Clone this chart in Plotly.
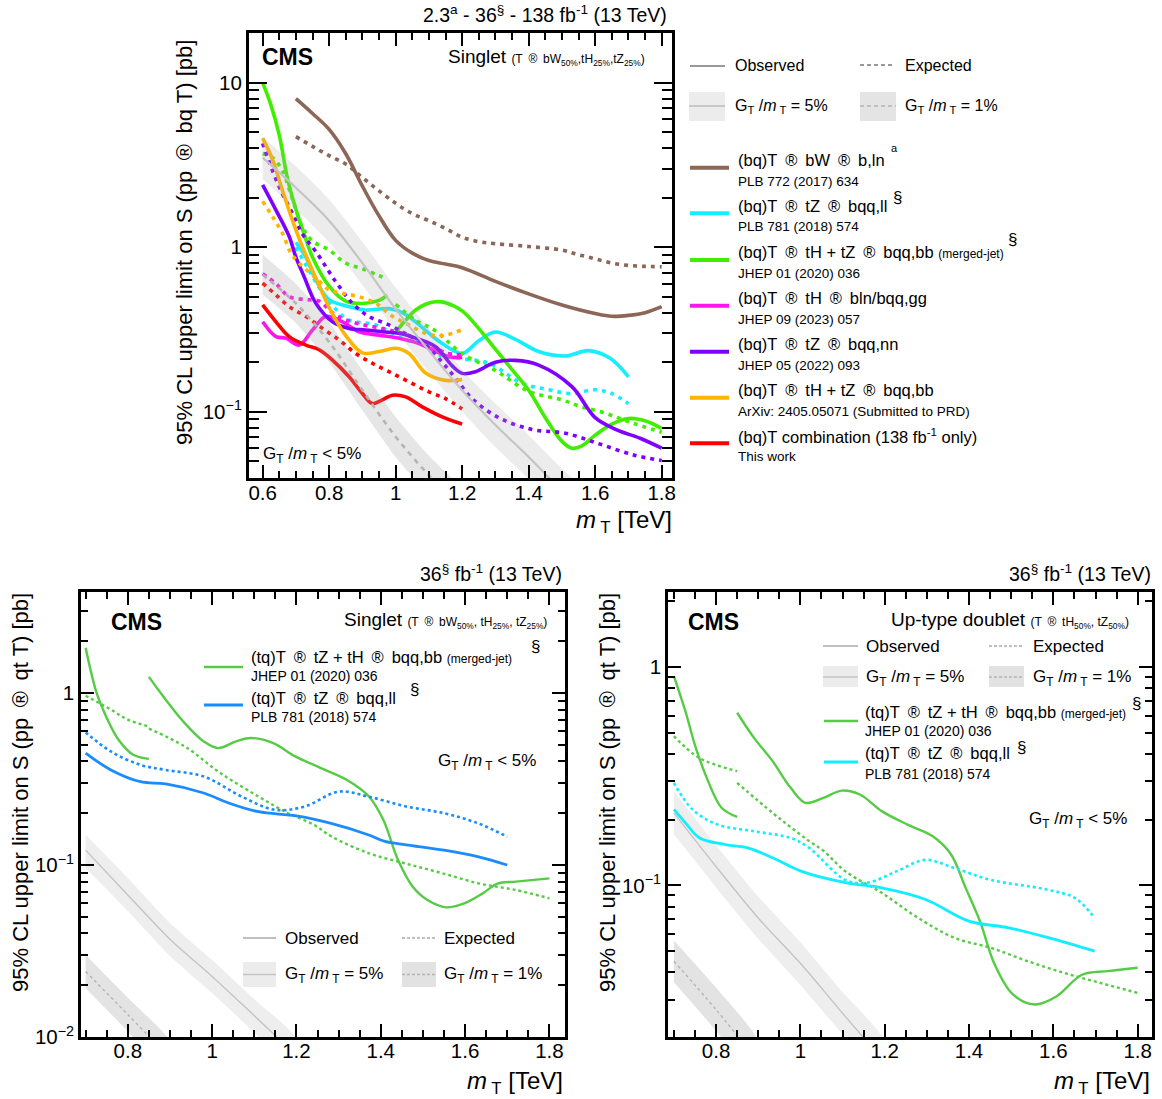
import plotly.graph_objects as go

W, H = 1162, 1099
FONT = "Liberation Sans, Arial, Helvetica, sans-serif"
NB = "\u00a0\u2009"
ARR = NB + "®" + NB

# ---------------- DATA: top panel (bq)T singlet ----------------
bw_obs_x = [0.70, 0.75, 0.80, 0.85, 0.90, 0.95, 1.00, 1.05, 1.10, 1.15, 1.20, 1.30, 1.40, 1.50, 1.60, 1.65, 1.70, 1.75, 1.80]
bw_obs_y = [8.0, 6.5, 5.2, 3.7, 2.35, 1.55, 1.1, 0.92, 0.83, 0.79, 0.75, 0.62, 0.52, 0.445, 0.395, 0.38, 0.385, 0.40, 0.435]
bw_exp_x = [0.70, 0.75, 0.80, 0.85, 0.90, 0.95, 1.00, 1.05, 1.10, 1.15, 1.20, 1.25, 1.30, 1.40, 1.50, 1.55, 1.60, 1.65, 1.70, 1.75, 1.80]
bw_exp_y = [4.7, 4.1, 3.6, 3.2, 2.65, 2.2, 1.85, 1.6, 1.45, 1.3, 1.15, 1.08, 1.05, 1.01, 0.96, 0.9, 0.85, 0.8, 0.775, 0.765, 0.76]

tzll_obs_x = [0.70, 0.73, 0.76, 0.80, 0.86, 0.91, 0.98, 1.02, 1.06, 1.10, 1.14, 1.20, 1.25, 1.30, 1.36, 1.43, 1.51, 1.58, 1.645, 1.70]
tzll_obs_y = [1.07, 0.87, 0.63, 0.48, 0.435, 0.415, 0.423, 0.40, 0.352, 0.30, 0.26, 0.226, 0.27, 0.305, 0.275, 0.232, 0.218, 0.235, 0.211, 0.163]
tzll_exp_x = [0.70, 0.74, 0.78, 0.82, 0.86, 0.94, 1.03, 1.08, 1.13, 1.19, 1.28, 1.38, 1.46, 1.53, 1.60, 1.65, 1.70]
tzll_exp_y = [1.0, 0.72, 0.53, 0.42, 0.36, 0.337, 0.273, 0.26, 0.222, 0.211, 0.197, 0.149, 0.136, 0.129, 0.136, 0.129, 0.112]

mj_obs1_x = [0.60, 0.625, 0.65, 0.675, 0.70, 0.725, 0.75, 0.80, 0.85, 0.90, 0.95, 0.975]
mj_obs1_y = [10.0, 7.3, 4.8, 2.6, 1.7, 1.2, 0.87, 0.58, 0.47, 0.455, 0.475, 0.51]
mj_obs2_x = [1.0, 1.03, 1.06, 1.09, 1.12, 1.15, 1.20, 1.25, 1.30, 1.35, 1.40, 1.45, 1.50, 1.53, 1.56, 1.60, 1.65, 1.70, 1.75, 1.80]
mj_obs2_y = [0.305, 0.36, 0.415, 0.45, 0.466, 0.46, 0.41, 0.32, 0.24, 0.18, 0.135, 0.092, 0.066, 0.060, 0.062, 0.072, 0.084, 0.091, 0.088, 0.079]
mj_exp1_x = [0.60, 0.63, 0.66, 0.69, 0.72, 0.75, 0.80, 0.85, 0.90, 0.95, 0.97]
mj_exp1_y = [3.7, 3.5, 2.9, 1.95, 1.32, 1.09, 0.96, 0.80, 0.74, 0.67, 0.65]
mj_exp2_x = [1.0, 1.06, 1.12, 1.20, 1.30, 1.40, 1.50, 1.56, 1.63, 1.70, 1.80]
mj_exp2_y = [0.45, 0.36, 0.31, 0.225, 0.178, 0.133, 0.118, 0.107, 0.098, 0.087, 0.075]

thgg_obs_x = [0.60, 0.64, 0.67, 0.71, 0.75, 0.79, 0.84, 0.89, 0.95, 1.01, 1.07, 1.16, 1.20]
thgg_obs_y = [0.352, 0.286, 0.28, 0.254, 0.314, 0.379, 0.352, 0.306, 0.292, 0.28, 0.26, 0.216, 0.214]
thgg_exp_x = [0.60, 0.64, 0.68, 0.73, 0.77, 0.81, 0.86, 0.96, 1.02, 1.10, 1.15, 1.20]
thgg_exp_y = [0.69, 0.60, 0.50, 0.48, 0.47, 0.40, 0.355, 0.32, 0.30, 0.26, 0.228, 0.222]

tznn_obs_x = [0.60, 0.64, 0.68, 0.70, 0.725, 0.76, 0.81, 0.86, 0.91, 0.96, 1.01, 1.06, 1.12, 1.17, 1.20, 1.24, 1.30, 1.36, 1.43, 1.53, 1.60, 1.665, 1.735, 1.80]
tznn_obs_y = [2.39, 1.68, 1.16, 0.87, 0.66, 0.456, 0.352, 0.321, 0.314, 0.306, 0.30, 0.28, 0.248, 0.19, 0.171, 0.175, 0.20, 0.205, 0.192, 0.142, 0.092, 0.0775, 0.069, 0.060]
tznn_exp_x = [0.60, 0.63, 0.66, 0.69, 0.72, 0.76, 0.82, 0.87, 0.92, 0.98, 1.04, 1.09, 1.14, 1.18, 1.23, 1.31, 1.41, 1.51, 1.61, 1.715, 1.80]
tznn_exp_y = [4.28, 2.9, 2.1, 1.6, 1.2, 0.94, 0.617, 0.456, 0.379, 0.337, 0.29, 0.255, 0.20, 0.16, 0.12, 0.092, 0.078, 0.074, 0.064, 0.0546, 0.0505]

thbb_obs_x = [0.60, 0.63, 0.66, 0.69, 0.72, 0.76, 0.80, 0.85, 0.90, 0.95, 1.00, 1.04, 1.09, 1.15, 1.20]
thbb_obs_y = [4.6, 3.4, 2.2, 1.45, 1.0, 0.65, 0.43, 0.29, 0.228, 0.232, 0.243, 0.226, 0.172, 0.155, 0.157]
thbb_exp_x = [0.60, 0.63, 0.66, 0.685, 0.71, 0.76, 0.80, 0.84, 0.89, 0.94, 0.99, 1.04, 1.09, 1.14, 1.20]
thbb_exp_y = [1.9, 1.53, 1.21, 0.92, 0.80, 0.65, 0.55, 0.525, 0.50, 0.456, 0.38, 0.337, 0.30, 0.29, 0.315]

comb_obs_x = [0.60, 0.64, 0.68, 0.73, 0.77, 0.81, 0.86, 0.90, 0.93, 0.96, 0.99, 1.03, 1.08, 1.14, 1.20]
comb_obs_y = [0.446, 0.352, 0.286, 0.254, 0.238, 0.206, 0.163, 0.129, 0.112, 0.118, 0.126, 0.123, 0.107, 0.093, 0.084]
comb_exp_x = [0.60, 0.64, 0.68, 0.73, 0.78, 0.83, 0.88, 0.93, 0.98, 1.04, 1.10, 1.15, 1.20]
comb_exp_y = [0.604, 0.513, 0.435, 0.379, 0.321, 0.273, 0.226, 0.197, 0.175, 0.152, 0.132, 0.12, 0.104]

th5_top_x = [0.6, 0.7, 0.8, 0.9, 1.0, 1.1, 1.2, 1.3, 1.4, 1.5, 1.6]
th5_top_y = [3.5, 2.3, 1.45, 0.8, 0.42, 0.235, 0.135, 0.083, 0.053, 0.033, 0.021]
th5_top_hi = [4.7, 3.1, 1.95, 1.08, 0.57, 0.32, 0.18, 0.112, 0.072, 0.045, 0.028]
th5_top_lo = [2.6, 1.7, 1.07, 0.59, 0.31, 0.174, 0.10, 0.061, 0.039, 0.024, 0.0155]
th1_top_x = [0.6, 0.7, 0.8, 0.9, 1.0, 1.1, 1.2]
th1_top_y = [0.68, 0.455, 0.265, 0.135, 0.0705, 0.041, 0.025]
th1_top_hi = [0.90, 0.60, 0.35, 0.178, 0.093, 0.054, 0.033]
th1_top_lo = [0.515, 0.345, 0.20, 0.102, 0.053, 0.031, 0.019]

# ---------------- DATA: bottom-left (tq)T singlet ----------------
bl_mj_obs1_x = [0.70, 0.726, 0.752, 0.778, 0.813, 0.85]
bl_mj_obs1_y = [1.83, 1.0, 0.70, 0.535, 0.437, 0.414]
bl_mj_obs2_x = [0.85, 0.89, 0.935, 0.98, 1.014, 1.057, 1.092, 1.145, 1.197, 1.258, 1.319, 1.372, 1.406, 1.441, 1.476, 1.511, 1.555, 1.598, 1.642, 1.677, 1.721, 1.80]
bl_mj_obs2_y = [1.24, 0.914, 0.668, 0.523, 0.478, 0.523, 0.547, 0.511, 0.428, 0.366, 0.313, 0.25, 0.183, 0.107, 0.0748, 0.0625, 0.0567, 0.0598, 0.0684, 0.078, 0.080, 0.0836]
bl_mj_exp1_x = [0.70, 0.76, 0.80, 0.85]
bl_mj_exp1_y = [0.964, 0.80, 0.70, 0.64]
bl_mj_exp2_x = [0.85, 0.935, 1.02, 1.11, 1.18, 1.24, 1.284, 1.372, 1.459, 1.546, 1.634, 1.721, 1.80]
bl_mj_exp2_y = [0.62, 0.489, 0.342, 0.25, 0.20, 0.172, 0.146, 0.117, 0.102, 0.0895, 0.078, 0.0715, 0.064]
bl_ll_obs_x = [0.70, 0.76, 0.83, 0.89, 0.98, 1.04, 1.11, 1.20, 1.28, 1.37, 1.41, 1.46, 1.55, 1.63, 1.70]
bl_ll_obs_y = [0.447, 0.357, 0.305, 0.296, 0.262, 0.229, 0.204, 0.193, 0.175, 0.15, 0.137, 0.131, 0.122, 0.112, 0.10]
bl_ll_exp_x = [0.70, 0.76, 0.83, 0.89, 0.98, 1.07, 1.15, 1.22, 1.30, 1.37, 1.46, 1.55, 1.63, 1.70]
bl_ll_exp_y = [0.59, 0.457, 0.382, 0.357, 0.327, 0.25, 0.209, 0.219, 0.267, 0.25, 0.219, 0.20, 0.175, 0.146]
bl_th5_x = [0.7, 0.8, 0.9, 1.0, 1.1, 1.2]
bl_th5_y = [0.122, 0.067, 0.037, 0.0225, 0.0133, 0.0078]
bl_th5_hi = [0.150, 0.084, 0.046, 0.028, 0.0166, 0.0098]
bl_th5_lo = [0.096, 0.054, 0.0296, 0.018, 0.0106, 0.0062]
bl_th1_x = [0.7, 0.8, 0.9]
bl_th1_y = [0.024, 0.0135, 0.0075]
bl_th1_hi = [0.030, 0.0169, 0.0094]
bl_th1_lo = [0.0192, 0.0108, 0.006]

# ---------------- DATA: bottom-right (tq)T up-type doublet ----------------
br_mj_obs1_x = [0.70, 0.727, 0.752, 0.778, 0.813, 0.85]
br_mj_obs1_y = [0.91, 0.63, 0.427, 0.311, 0.227, 0.206]
br_mj_obs2_x = [0.85, 0.89, 0.934, 0.977, 1.012, 1.055, 1.098, 1.141, 1.193, 1.254, 1.314, 1.357, 1.392, 1.426, 1.461, 1.504, 1.556, 1.608, 1.668, 1.729, 1.80]
br_mj_obs2_y = [0.618, 0.474, 0.371, 0.28, 0.239, 0.252, 0.272, 0.261, 0.219, 0.19, 0.168, 0.139, 0.0975, 0.0686, 0.0434, 0.0317, 0.0285, 0.0311, 0.039, 0.0405, 0.042]
br_mj_exp1_x = [0.70, 0.76, 0.85]
br_mj_exp1_y = [0.483, 0.384, 0.334]
br_mj_exp2_x = [0.85, 0.934, 0.977, 1.02, 1.055, 1.107, 1.193, 1.279, 1.366, 1.452, 1.539, 1.625, 1.711, 1.80]
br_mj_exp2_y = [0.295, 0.215, 0.185, 0.16, 0.144, 0.116, 0.0925, 0.0711, 0.0575, 0.0518, 0.045, 0.0398, 0.0358, 0.0322]
br_ll_obs_x = [0.70, 0.727, 0.761, 0.822, 0.873, 0.934, 1.003, 1.107, 1.193, 1.297, 1.40, 1.495, 1.59, 1.698]
br_ll_obs_y = [0.223, 0.194, 0.165, 0.154, 0.149, 0.134, 0.116, 0.103, 0.0975, 0.0863, 0.0686, 0.064, 0.0575, 0.05]
br_ll_exp_x = [0.70, 0.744, 0.804, 0.891, 0.977, 1.02, 1.107, 1.159, 1.228, 1.297, 1.366, 1.452, 1.582, 1.651, 1.698]
br_ll_exp_y = [0.295, 0.223, 0.19, 0.177, 0.165, 0.149, 0.106, 0.103, 0.116, 0.131, 0.12, 0.106, 0.096, 0.0877, 0.071]
br_th5_x = [0.7, 0.8, 0.9, 1.0, 1.1, 1.2]
br_th5_y = [0.215, 0.122, 0.071, 0.044, 0.026, 0.0155]
br_th5_hi = [0.27, 0.153, 0.089, 0.055, 0.0325, 0.0194]
br_th5_lo = [0.172, 0.098, 0.057, 0.035, 0.0208, 0.0124]
br_th1_x = [0.7, 0.8, 0.9]
br_th1_y = [0.045, 0.027, 0.0155]
br_th1_hi = [0.056, 0.034, 0.0194]
br_th1_lo = [0.036, 0.0216, 0.0124]

# ---------------- styles ----------------
C_BROWN = "#8c6656"
C_CYAN = "#14eeff"
C_GREEN = "#40ee00"
C_MAG = "#ff14f0"
C_PURP = "#7f00ff"
C_ORNG = "#ffb400"
C_RED = "#ff0000"
C_GREEN2 = "#55cc44"
C_BLUE = "#1a8cff"
C_CYAN2 = "#10eeff"

fig = go.Figure()


def line(x, y, color, width, dash=None, ax="", opacity=1.0):
    fig.add_trace(go.Scatter(
        x=x, y=y, mode="lines", opacity=opacity,
        line=dict(color=color, width=width, dash=dash, shape="spline", smoothing=1.0),
        xaxis="x" + ax, yaxis="y" + ax, hoverinfo="skip", showlegend=False))


def band(x, lo, hi, fill, ax=""):
    fig.add_trace(go.Scatter(
        x=list(x) + list(x)[::-1], y=list(hi) + list(lo)[::-1],
        mode="lines", fill="toself", fillcolor=fill,
        line=dict(width=0, shape="spline", smoothing=0.6),
        xaxis="x" + ax, yaxis="y" + ax, hoverinfo="skip", showlegend=False))


# ---- top panel ----
DT = "4px,5px"
LWT = 3.6
line(bw_exp_x, bw_exp_y, C_BROWN, LWT, DT)
line(bw_obs_x, bw_obs_y, C_BROWN, LWT)
line(tzll_exp_x, tzll_exp_y, C_CYAN, LWT, DT)
line(tzll_obs_x, tzll_obs_y, C_CYAN, LWT)
line(mj_exp1_x, mj_exp1_y, C_GREEN, LWT, DT)
line(mj_exp2_x, mj_exp2_y, C_GREEN, LWT, DT)
line(mj_obs1_x, mj_obs1_y, C_GREEN, LWT)
line(mj_obs2_x, mj_obs2_y, C_GREEN, LWT)
line(thgg_exp_x, thgg_exp_y, C_MAG, LWT, DT)
line(thgg_obs_x, thgg_obs_y, C_MAG, LWT)
line(tznn_exp_x, tznn_exp_y, C_PURP, LWT, DT)
line(tznn_obs_x, tznn_obs_y, C_PURP, LWT)
line(thbb_exp_x, thbb_exp_y, C_ORNG, LWT, DT)
line(thbb_obs_x, thbb_obs_y, C_ORNG, LWT)
line(comb_exp_x, comb_exp_y, C_RED, LWT, DT)
line(comb_obs_x, comb_obs_y, C_RED, LWT)
band(th5_top_x, th5_top_lo, th5_top_hi, "rgba(170,170,170,0.22)")
band(th1_top_x, th1_top_lo, th1_top_hi, "rgba(160,160,160,0.26)")
line(th5_top_x, th5_top_y, "#c4c4c4", 2.2)
line(th1_top_x, th1_top_y, "#b4b4b4", 2.6, "5px,5px")

# ---- bottom-left ----
band(bl_th5_x, bl_th5_lo, bl_th5_hi, "#eeeeee", "2")
band(bl_th1_x, bl_th1_lo, bl_th1_hi, "#e3e3e3", "2")
line(bl_th5_x, bl_th5_y, "#c4c4c4", 1.4, None, "2")
line(bl_th1_x, bl_th1_y, "#b4b4b4", 1.4, "3px,3px", "2")
line(bl_mj_exp1_x, bl_mj_exp1_y, C_GREEN2, 2.4, "3px,3px", "2")
line(bl_mj_exp2_x, bl_mj_exp2_y, C_GREEN2, 2.4, "3px,3px", "2")
line(bl_mj_obs1_x, bl_mj_obs1_y, C_GREEN2, 2.4, None, "2")
line(bl_mj_obs2_x, bl_mj_obs2_y, C_GREEN2, 2.4, None, "2")
line(bl_ll_exp_x, bl_ll_exp_y, C_BLUE, 2.6, "3px,3px", "2")
line(bl_ll_obs_x, bl_ll_obs_y, C_BLUE, 2.8, None, "2")

# ---- bottom-right ----
band(br_th5_x, br_th5_lo, br_th5_hi, "#eeeeee", "3")
band(br_th1_x, br_th1_lo, br_th1_hi, "#e3e3e3", "3")
line(br_th5_x, br_th5_y, "#c4c4c4", 1.4, None, "3")
line(br_th1_x, br_th1_y, "#b4b4b4", 1.4, "3px,3px", "3")
line(br_mj_exp1_x, br_mj_exp1_y, C_GREEN2, 2.4, "3px,3px", "3")
line(br_mj_exp2_x, br_mj_exp2_y, C_GREEN2, 2.4, "3px,3px", "3")
line(br_mj_obs1_x, br_mj_obs1_y, C_GREEN2, 2.4, None, "3")
line(br_mj_obs2_x, br_mj_obs2_y, C_GREEN2, 2.4, None, "3")
line(br_ll_exp_x, br_ll_exp_y, C_CYAN2, 2.6, "3px,3px", "3")
line(br_ll_obs_x, br_ll_obs_y, C_CYAN2, 2.8, None, "3")

# ---------------- axes ----------------
def px2x(px):
    return px / W


def py2y(py):
    return 1 - py / H


def xminor(a, b):
    out = []
    v = a
    while v <= b + 1e-9:
        r = round(v, 2)
        if abs(r * 5 - round(r * 5)) > 1e-6:
            out.append(r)
        v += 0.05
    return out


LOG_MINOR = [0.02, 0.03, 0.04, 0.05, 0.06, 0.07, 0.08, 0.09,
             0.2, 0.3, 0.4, 0.5, 0.6, 0.7, 0.8, 0.9,
             2, 3, 4, 5, 6, 7, 8, 9]


def xaxis_cfg(dom, rng, anchor, lw, mj, mn):
    return dict(domain=dom, range=rng, anchor=anchor, automargin=False,
                tickmode="array", tickvals=[0.6, 0.8, 1.0, 1.2, 1.4, 1.6, 1.8],
                ticktext=["0.6", "0.8", "1", "1.2", "1.4", "1.6", "1.8"],
                ticks="inside", ticklen=mj, tickwidth=1.6, tickcolor="black",
                ticklabelstandoff=-6,
                showline=True, linecolor="black", linewidth=lw, mirror="allticks",
                showgrid=False, zeroline=False,
                tickfont=dict(size=20.5, family=FONT, color="black"),
                minor=dict(tickmode="array", tickvals=xminor(0.55, 1.8), ticks="inside",
                           ticklen=mn, tickwidth=1.6, tickcolor="black", showgrid=False))


def yaxis_cfg(dom, rng, anchor, tv, tt, lw, mj, mn):
    return dict(domain=dom, range=rng, anchor=anchor, type="log", automargin=False,
                tickmode="array", tickvals=tv, ticktext=tt,
                ticks="inside", ticklen=mj, tickwidth=1.6, tickcolor="black",
                showline=True, linecolor="black", linewidth=lw, mirror="allticks",
                showgrid=False, zeroline=False,
                tickfont=dict(size=20.5, family=FONT, color="black"),
                minor=dict(tickmode="array", tickvals=LOG_MINOR, ticks="inside",
                           ticklen=mn, tickwidth=1.6, tickcolor="black", showgrid=False))


TOP_Y = [1 - 478 / H, 1 - 33 / H]
BOT_Y = [1 - 1037 / H, 1 - 592 / H]

fig.update_layout(
    xaxis=xaxis_cfg([249 / W, 672 / W], [0.559, 1.831], "y", 3, 13, 7),
    yaxis=yaxis_cfg(TOP_Y, [-1.403, 1.302], "x", [0.1, 1, 10], ["10<sup>\u22121</sup>", "1", "10"], 3, 18, 10),
    xaxis2=xaxis_cfg([81 / W, 565 / W], [0.689, 1.837], "y2", 2.6, 13, 7),
    yaxis2=yaxis_cfg(BOT_Y, [-2.0, 0.587], "x2", [0.01, 0.1, 1], ["10<sup>\u22122</sup>", "10<sup>\u22121</sup>", "1"], 2.6, 13, 7),
    xaxis3=xaxis_cfg([668 / W, 1152 / W], [0.686, 1.834], "y3", 2.6, 13, 7),
    yaxis3=yaxis_cfg(BOT_Y, [-1.694, 0.344], "x3", [0.1, 1], ["10<sup>\u22121</sup>", "1"], 2.6, 13, 7),
)

# ---------------- annotations / legends ----------------
ann = []
shapes = []


def A(text, px, py, size, xa="left", ya="middle", angle=0):
    ann.append(dict(text=text, x=px2x(px), y=py2y(py), xref="paper", yref="paper",
                    showarrow=False, xanchor=xa, yanchor=ya, textangle=angle,
                    font=dict(size=size, family=FONT, color="black")))


def L(px0, px1, py, color, width, dash=None):
    shapes.append(dict(type="line", xref="paper", yref="paper",
                       x0=px2x(px0), x1=px2x(px1), y0=py2y(py), y1=py2y(py),
                       line=dict(color=color, width=width, dash=dash)))


def R(px0, py0, px1, py1, fill):
    shapes.append(dict(type="rect", xref="paper", yref="paper",
                       x0=px2x(px0), x1=px2x(px1), y0=py2y(py1), y1=py2y(py0),
                       fillcolor=fill, line=dict(width=0)))


GM = "G<sub>T</sub> /<i>m</i><sub> T</sub>"
SML = "<span style='font-size:12px'>"

# Top panel texts
A("2.3<sup>a</sup> - 36<sup>§</sup> - 138 fb<sup>-1</sup> (13 TeV)", 669, 14, 19.5, "right")
A("<b>CMS</b>", 260, 57, 23)
A("Singlet " + SML + "(T" + ARR + "bW<sub>50%</sub>,tH<sub>25%</sub>,tZ<sub>25%</sub>)</span>", 647, 57, 19, "right")
A(GM + " < 5%", 261, 455, 17)
A("95% CL upper limit on S (pp" + ARR + "bq T) [pb]", 184, 243, 22, "center", "middle", -90)
A("<i>m</i><sub> T</sub> [TeV]", 674, 521, 24, "right")

# Top legend
L(690, 725, 66, "#999999", 2)
A("Observed", 733, 66, 16)
L(860, 893, 65, "#999999", 2, "4px,3px")
A("Expected", 903, 65, 16)
R(689, 92, 725, 121, "#ececec")
L(689, 725, 106, "#c8c8c8", 2)
A(GM + " = 5%", 733, 106, 16)
R(860, 92, 896, 121, "#e4e4e4")
L(860, 896, 106, "#c0c0c0", 2, "4px,3px")
A(GM + " = 1%", 903, 106, 16)

top_entries = [
    (C_BROWN, 167.7, "(bq)T" + ARR + "bW" + ARR + "b,ln", "PLB 772 (2017) 634"),
    (C_CYAN, 213.3, "(bq)T" + ARR + "tZ" + ARR + "bqq,ll", "PLB 781 (2018) 574"),
    (C_GREEN, 260, "(bq)T" + ARR + "tH + tZ" + ARR + "bqq,bb " + SML + "(merged-jet)</span>", "JHEP 01 (2020) 036"),
    (C_MAG, 305.7, "(bq)T" + ARR + "tH" + ARR + "bln/bqq,gg", "JHEP 09 (2023) 057"),
    (C_PURP, 351.7, "(bq)T" + ARR + "tZ" + ARR + "bqq,nn", "JHEP 05 (2022) 093"),
    (C_ORNG, 397.7, "(bq)T" + ARR + "tH + tZ" + ARR + "bqq,bb", "ArXiv: 2405.05071 (Submitted to PRD)"),
    (C_RED, 443.3, "(bq)T combination (138 fb<sup>-1</sup> only)", "This work"),
]
for col, yy, t1, t2 in top_entries:
    L(690, 729, yy, col, 4)
    A(t1, 736, yy - 7.5, 16.5)
    A(t2, 736, yy + 13.5, 13.5)
A("a", 889, 148, 11)
A("§", 897, 198, 17, "center")
A("§", 1012, 240, 17, "center")

# Bottom-left texts
A("36<sup>§</sup> fb<sup>-1</sup> (13 TeV)", 564, 573, 19.5, "right")
A("<b>CMS</b>", 109, 622, 23)
A("Singlet " + SML + "(T" + ARR + "bW<sub>50%</sub>, tH<sub>25%</sub>, tZ<sub>25%</sub>)</span>", 549, 620, 19, "right")
L(204, 243, 667, C_GREEN2, 2.6)
A("(tq)T" + ARR + "tZ + tH" + ARR + "bqq,bb " + SML + "(merged-jet)</span>", 249, 657, 16.5)
A("JHEP 01 (2020) 036", 249, 676, 14)
A("§", 535, 646, 17, "center")
L(204, 243, 705, C_BLUE, 2.8)
A("(tq)T" + ARR + "tZ" + ARR + "bqq,ll", 249, 698, 16.5)
A("§", 414, 689, 17, "center")
A("PLB 781 (2018) 574", 249, 717, 14)
A(GM + " < 5%", 538, 762, 17, "right")
L(243, 276, 938, "#aaaaaa", 1.5)
A("Observed", 283, 938, 17)
L(402, 436, 938, "#aaaaaa", 1.5, "3px,2px")
A("Expected", 442, 938, 17)
R(243, 962, 276, 987, "#ececec")
L(243, 276, 974.5, "#c4c4c4", 1.5)
A(GM + " = 5%", 283, 975, 17)
R(402, 962, 436, 987, "#e2e2e2")
L(402, 436, 974.5, "#b4b4b4", 1.5, "3px,2px")
A(GM + " = 1%", 442, 975, 17)
A("95% CL upper limit on S (pp" + ARR + "qt T) [pb]", 20, 793, 22, "center", "middle", -90)
A("<i>m</i><sub> T</sub> [TeV]", 565, 1082, 24, "right")

# Bottom-right texts
A("36<sup>§</sup> fb<sup>-1</sup> (13 TeV)", 1153, 573, 19.5, "right")
A("<b>CMS</b>", 686, 622, 23)
A("Up-type doublet " + SML + "(T" + ARR + "tH<sub>50%</sub>, tZ<sub>50%</sub>)</span>", 1131, 620, 19, "right")
L(823, 858, 646, "#aaaaaa", 1.5)
A("Observed", 864, 646, 17)
L(989, 1023, 646, "#aaaaaa", 1.5, "3px,2px")
A("Expected", 1031, 646, 17)
R(823, 666, 858, 687, "#ececec")
L(823, 858, 677, "#c4c4c4", 1.5)
A(GM + " = 5%", 864, 678, 17)
R(989, 666, 1024, 687, "#e2e2e2")
L(989, 1024, 677, "#b4b4b4", 1.5, "3px,2px")
A(GM + " = 1%", 1031, 678, 17)
L(824, 858, 721, C_GREEN2, 2.6)
A("(tq)T" + ARR + "tZ + tH" + ARR + "bqq,bb " + SML + "(merged-jet)</span>", 863, 712, 16.5)
A("JHEP 01 (2020) 036", 863, 731, 14)
A("§", 1136, 703, 17, "center")
L(824, 858, 762, C_CYAN2, 2.8)
A("(tq)T" + ARR + "tZ" + ARR + "bqq,ll", 863, 753, 16.5)
A("§", 1021, 747, 17, "center")
A("PLB 781 (2018) 574", 863, 774, 14)
A(GM + " < 5%", 1129, 820, 17, "right")
A("95% CL upper limit on S (pp" + ARR + "qt T) [pb]", 607, 793, 22, "center", "middle", -90)
A("<i>m</i><sub> T</sub> [TeV]", 1152, 1082, 24, "right")

fig.update_layout(
    width=W, height=H, margin=dict(l=0, r=0, t=0, b=0, autoexpand=False),
    paper_bgcolor="white", plot_bgcolor="white", showlegend=False,
    annotations=ann, shapes=shapes,
    font=dict(family=FONT, color="black"),
)

fig.write_html("out.html",
               config={"displayModeBar": False},
               post_script="document.body.style.margin='0px';document.body.style.overflow='hidden';")
